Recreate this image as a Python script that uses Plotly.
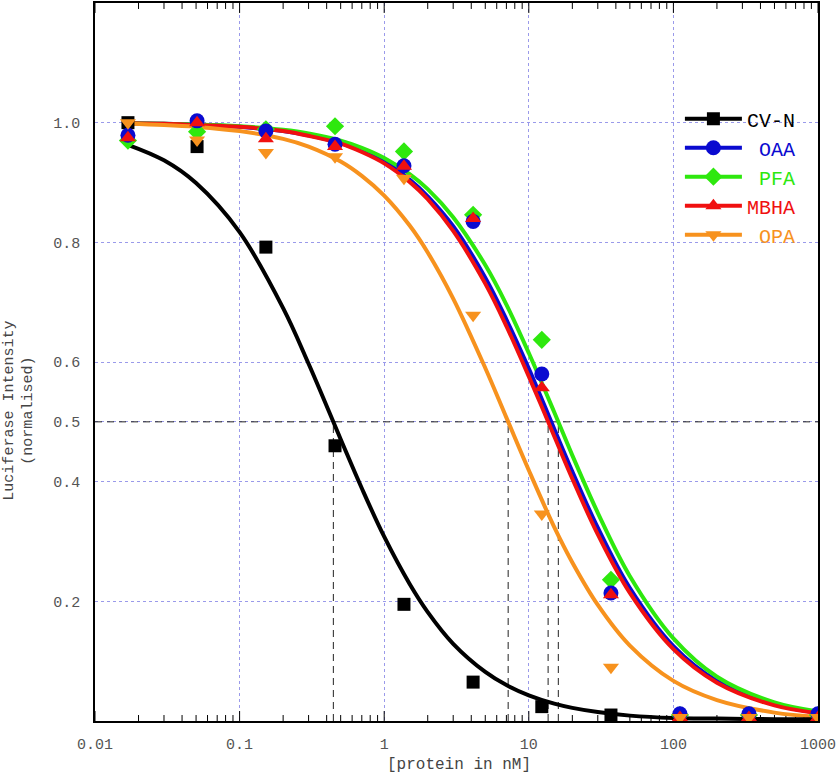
import plotly.graph_objects as go

# ---------------- data ----------------
conc = [0.0169, 0.0508, 0.152, 0.457, 1.37, 4.12, 12.3, 37.0, 111.0, 333.0, 1000.0]

cvn_pts  = [1.000, 0.960, 0.792, 0.460, 0.195, 0.065, 0.024, 0.010, 0.005, 0.005, 0.005]
oaa_pts  = [0.979, 1.003, 0.986, 0.964, 0.928, 0.835, 0.580, 0.214, 0.012, 0.012, 0.012]
pfa_pts  = [0.970, 0.985, 0.989, 0.994, 0.952, 0.846, 0.637, 0.236, 0.010, 0.010, 0.010]
mbha_pts = [0.975, 1.000, 0.973, 0.960, 0.927, 0.840, 0.557, 0.211, 0.006, 0.006, 0.006]
opa_pts  = [1.000, 0.971, 0.950, 0.943, 0.907, 0.678, 0.346, 0.090, 0.006, 0.006, 0.006]

# fitted curves
curve_x = [0.0169, 0.03, 0.05, 0.1, 0.2, 0.3, 0.5, 0.7, 1, 1.5, 2, 3, 5, 7, 10,
           15, 20, 30, 50, 100, 200, 500, 1000]
cvn_fit  = [0.963, 0.937, 0.899, 0.817, 0.690, 0.597, 0.471, 0.389, 0.308, 0.229, 0.182,
            0.129, 0.082, 0.060, 0.043, 0.029, 0.022, 0.015, 0.009, 0.005, 0.004, 0.003, 0.003]
oaa_fit  = [0.999, 0.998, 0.997, 0.993, 0.986, 0.979, 0.966, 0.953, 0.935, 0.905, 0.877,
            0.827, 0.741, 0.671, 0.589, 0.488, 0.417, 0.323, 0.222, 0.125, 0.067, 0.028, 0.014]
pfa_fit  = [0.999, 0.998, 0.997, 0.994, 0.988, 0.982, 0.970, 0.958, 0.941, 0.914, 0.889,
            0.842, 0.762, 0.696, 0.615, 0.516, 0.444, 0.348, 0.242, 0.138, 0.074, 0.031, 0.016]
mbha_fit = [0.999, 0.998, 0.996, 0.993, 0.986, 0.978, 0.965, 0.951, 0.932, 0.901, 0.872,
            0.819, 0.731, 0.660, 0.576, 0.476, 0.405, 0.312, 0.214, 0.120, 0.064, 0.026, 0.013]
opa_fit  = [0.998, 0.996, 0.993, 0.986, 0.973, 0.960, 0.935, 0.911, 0.878, 0.828, 0.783,
            0.706, 0.590, 0.507, 0.419, 0.324, 0.265, 0.194, 0.126, 0.067, 0.035, 0.014, 0.007]

# IC50 guide lines
half_level = 0.5
ic50_values = [0.445, 7.2, 13.6, 16.0]

x_decades = [0.01, 0.1, 1, 10, 100, 1000]
x_decade_text = ["0.01", "0.1", "1", "10", "100", "1000"]
x_minor_vals = [m * d for d in x_decades[:-1] for m in range(2, 10)]
y_range = [0, 1.2]
y_tick_vals = [0.2, 0.4, 0.5, 0.6, 0.8, 1.0]
y_tick_text = ["0.2", "0.4", "0.5", "0.6", "0.8", "1.0"]

# ---------------- styling ----------------
MONO = "Liberation Mono, Courier New, monospace"
W, H = 840, 778
M = dict(l=95, r=22, t=1, b=57)
plot_h_px = H - M["t"] - M["b"]
units_per_px = (y_range[1] - y_range[0]) / plot_h_px
MAJOR_LEN_PX, MINOR_LEN_PX = 10, 6

series = [
    # name, points, fit, colour, symbol, size, legend rank
    ("CV-N", cvn_pts,  cvn_fit,  "#000000", "square",        13, 1),
    ("PFA",  pfa_pts,  pfa_fit,  "#2ee80e", "diamond",       14, 3),
    ("OAA",  oaa_pts,  oaa_fit,  "#0a0ad0", "circle",        15, 2),
    ("MBHA", mbha_pts, mbha_fit, "#f01010", "triangle-up",   14, 4),
    ("OPA",  opa_pts,  opa_fit,  "#f7921e", "triangle-down", 14, 5),
]
legend_label = {"CV-N": "CV-N", "OAA": "\u00a0OAA", "PFA": "\u00a0PFA",
                "MBHA": "MBHA", "OPA": "\u00a0OPA"}

fig = go.Figure()

# inward tick marks on bottom and top edges (log axis decorations)
def tick_segments(vals, length_px):
    xs, ys = [], []
    L = length_px * units_per_px
    for v in vals:
        xs += [v, v, None, v, v, None]
        ys += [y_range[0], y_range[0] + L, None, y_range[1], y_range[1] - L, None]
    return xs, ys

for vals, lpx in [(x_decades, MAJOR_LEN_PX), (x_minor_vals, MINOR_LEN_PX)]:
    tx, ty = tick_segments(vals, lpx)
    fig.add_trace(go.Scatter(x=tx, y=ty, mode="lines", line=dict(color="black", width=1),
                             showlegend=False, hoverinfo="skip", cliponaxis=False))

# dashed guide lines
fig.add_trace(go.Scatter(x=[x_decades[0], x_decades[-1]], y=[half_level, half_level],
                         mode="lines", line=dict(color="#222", width=1, dash="7px,5px"),
                         showlegend=False, hoverinfo="skip"))
for v in ic50_values:
    fig.add_trace(go.Scatter(x=[v, v], y=[0, half_level], mode="lines",
                             line=dict(color="#222", width=1, dash="7px,5px"),
                             showlegend=False, hoverinfo="skip"))

# fitted curves (blue under green/red)
curve_order = ["OAA", "PFA", "MBHA", "OPA", "CV-N"]
lookup = {s[0]: s for s in series}
for nm in curve_order:
    name, pts, fit, col, sym, sz, rk = lookup[nm]
    fig.add_trace(go.Scatter(x=curve_x, y=fit, mode="lines",
                             line=dict(color=col, width=4, shape="spline"),
                             showlegend=False, hoverinfo="skip"))

# data points
for name, pts, fit, col, sym, sz, rk in series:
    fig.add_trace(go.Scatter(x=conc, y=pts, mode="markers",
                             marker=dict(symbol=sym, size=sz, color=col, line=dict(width=0)),
                             showlegend=False, name=name))

# legend entries
for name, pts, fit, col, sym, sz, rk in series:
    fig.add_trace(go.Scatter(x=[None], y=[None], mode="lines+markers",
                             line=dict(color=col, width=4),
                             marker=dict(symbol=sym, size=sz, color=col),
                             name=f'<span style="color:{col}">{legend_label[name]}</span>',
                             legendrank=rk))

fig.update_layout(
    width=W, height=H,
    margin=M,
    paper_bgcolor="white", plot_bgcolor="white",
    font=dict(family=MONO, size=15, color="#555"),
    legend=dict(x=0.809, y=0.866, xanchor="left", yanchor="top",
                bgcolor="rgba(0,0,0,0)", font=dict(family=MONO, size=20),
                itemwidth=57, tracegroupgap=0),
    showlegend=True,
)

fig.update_xaxes(type="log", range=[-2, 3], tickmode="array",
                 tickvals=x_decades, ticktext=x_decade_text,
                 showline=True, linecolor="black", linewidth=1.5, mirror=True,
                 ticks="", showgrid=True, gridcolor="#9a9aea", griddash="dot", gridwidth=1,
                 zeroline=False, ticklabelstandoff=8,
                 tickfont=dict(family=MONO, size=15, color="#555"))
fig.update_yaxes(range=y_range, tickvals=y_tick_vals, ticktext=y_tick_text,
                 showline=True, linecolor="black", linewidth=1.5, mirror=True,
                 ticks="", showgrid=True, gridcolor="#9a9aea", griddash="dot", gridwidth=1,
                 zeroline=False, ticklabelstandoff=10,
                 tickfont=dict(family=MONO, size=15, color="#555"))

fig.add_annotation(text="[protein in nM]", xref="paper", yref="paper", x=0.503, y=-0.061,
                   xanchor="center", yanchor="middle", showarrow=False,
                   font=dict(family=MONO, size=16, color="#444"))
fig.add_annotation(text="Luciferase Intensity<br>(normalised)", xref="paper", yref="paper",
                   x=-0.104, y=0.432, xanchor="center", yanchor="middle", showarrow=False,
                   textangle=-90, font=dict(family=MONO, size=15, color="#444"))

fig.write_html("out.html", config={"displayModeBar": False},
               post_script="document.body.style.margin='0';")
